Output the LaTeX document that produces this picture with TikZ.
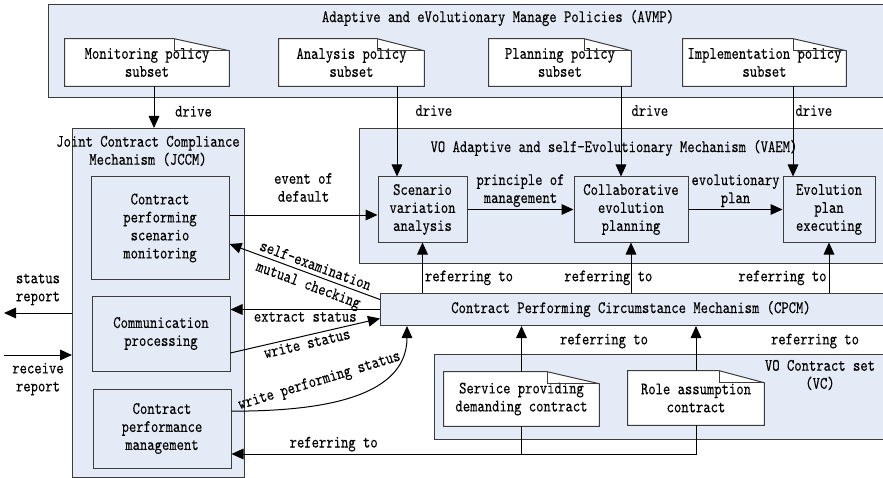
\documentclass[tikz,border=0pt]{standalone}
\usepackage{fontspec}
\usepackage{tikz}
\usetikzlibrary{arrows.meta, positioning, calc}
\newfontfamily\figfont{lmmono10-regular.otf}[FakeStretch=0.8, FakeBold=0.15]
\definecolor{paneblue}{RGB}{229,235,246}
\definecolor{edgegray}{RGB}{60,60,60}

\begin{document}
\begin{tikzpicture}[
  x=0.75pt, y=-0.75pt,
  font=\figfont\fontsize{13.1}{13.5}\selectfont,
  container/.style={rectangle, draw=edgegray, fill=paneblue, anchor=north west,
                    inner sep=0pt, line width=0.75pt},
  func/.style={rectangle, draw=edgegray, fill=paneblue, align=center,
               line width=0.75pt, inner sep=2pt, minimum height=48.75pt},
  policy/.style={rectangle, fill=white, align=center, inner sep=2pt, minimum height=35.25pt},
  lbl/.style={align=center, inner sep=1.5pt},
  arrow/.style={-{Triangle[length=9pt,width=8pt]}, draw=black, line width=0.75pt},
  link/.style={draw=black, line width=0.75pt}
]
\useasboundingbox (0,0) rectangle (883,478);
\clip (0,0) rectangle (883,478);

% mechanism panes
\node[container, minimum width=675.75pt, minimum height=69.75pt] (avmp) at (48,4) {};
\node[container, minimum width=129pt, minimum height=261.75pt] (jccm) at (72,128) {};
\node[container, minimum width=405pt, minimum height=101.25pt] (vaem) at (359,128) {};
\node[container, minimum width=390pt, minimum height=24pt] (cpcm) at (380,293) {};
\node[container, minimum width=345pt, minimum height=63.75pt] (vc) at (434,354) {};

\node (avmpt) at (498,18) {Adaptive and eVolutionary Manage Policies (AVMP)};
\node[align=center] (jccmt) at (148,151) {Joint Contract Compliance\\Mechanism (JCCM)};
\node (vaemt) at (614,148) {VO Adaptive and self-Evolutionary Mechanism (VAEM)};
\node (cpcmt) at (631,309) {Contract Performing Circumstance Mechanism (CPCM)};
\node[align=center] (vct) at (820,375) {VO Contract set\\(VC)};

% policy subsets and contracts
\node[policy, minimum width=123pt] (mon) at (147,62.5) {Monitoring policy\\subset};
\node[policy, minimum width=108.75pt] (ana) at (351.5,62.5) {Analysis policy\\subset};
\node[policy, minimum width=106.5pt] (pla) at (560,62.5) {Planning policy\\subset};
\node[policy, minimum width=122.25pt] (imp) at (764.5,62.5) {Implementation policy\\subset};
\node[policy, minimum width=116.25pt, minimum height=40.5pt] (spd) at (521.5,399) {Service providing\\demanding contract};
\node[policy, minimum width=102pt, minimum height=40.5pt] (rac) at (696,398) {Role assumption\\contract};

% folded corners
\foreach \d/\f in {mon/55,ana/47,pla/47,imp/53,spd/52,rac/45} {
  \fill[paneblue] ($(\d.north east)+(-\f,0)$) -- (\d.north east) -- ($(\d.north east)+(0,12)$) -- cycle;
  \draw[edgegray, line width=0.75pt] (\d.north west) -- ($(\d.north east)+(-\f,0)$)
    -- ($(\d.north east)+(0,12)$) -- (\d.south east) -- (\d.south west) -- cycle;
  \draw[edgegray, line width=0.75pt] ($(\d.north east)+(-\f,0)$) |- ($(\d.north east)+(0,12)$);
}

% functions
\node[func, minimum width=103.5pt, minimum height=76.5pt] (cpsm) at (160,228) {Contract\\performing\\scenario\\monitoring};
\node[func, minimum width=103.5pt, minimum height=56.25pt] (comm) at (161,333.5) {Communication\\processing};
\node[func, minimum width=103.5pt, minimum height=59.25pt] (cpm) at (162,428.5) {Contract\\performance\\management};
\node[func, minimum width=66.75pt] (scen) at (422.5,209.5) {Scenario\\variation\\analysis};
\node[func, minimum width=85.5pt] (coll) at (631,209.5) {Collaborative\\evolution\\planning};
\node[func, minimum width=69pt] (evol) at (829,209.5) {Evolution\\plan\\executing};

% drive arrows
\coordinate (d1) at (154,0);
\coordinate (d2) at (397,0);
\coordinate (d3) at (621,0);
\coordinate (d4) at (793,0);
\draw[arrow] (mon.south -| d1) -- (jccm.north -| d1) node[pos=0.6, right=14pt, lbl] {drive};
\draw[arrow] (ana.south -| d2) -- (scen.north -| d2) node[pos=0.27, right=12pt, lbl] {drive};
\draw[arrow] (pla.south -| d3) -- (coll.north -| d3) node[pos=0.27, right=6pt, lbl] {drive};
\draw[arrow] (imp.south -| d4) -- (evol.north -| d4) node[pos=0.27, right, lbl] {drive};

% evolution chain
\coordinate (evd) at (300,215);
\draw[arrow] (cpsm.east |- evd) -- (scen.west |- evd) node[midway, above=8pt, lbl] {event of\\default};
\draw[arrow] (scen.east) -- (coll.west) node[midway, above, lbl] {principle of\\management};
\draw[arrow] (coll.east) -- (evol.west) node[midway, above, lbl] {evolutionary\\plan};

% referring to circumstance
\draw[arrow] (scen.south |- cpcm.north) -- (scen.south) node[pos=0.3, right, lbl] {referring to};
\draw[arrow] (coll.south |- cpcm.north) -- (coll.south) node[pos=0.3, xshift=-17pt, lbl] {referring to};
\draw[arrow] (evol.south |- cpcm.north) -- (evol.south) node[pos=0.3, left, lbl] {referring to};
\draw[arrow] (spd.north) -- (spd.north |- cpcm.south);
\draw[arrow] (rac.north) -- (rac.north |- cpcm.south);
\node[lbl] (vcref) at (604,341) {referring to};
\node[lbl] (vcref2) at (815,341) {referring to};

% JCCM <-> CPCM
\draw[arrow] ([yshift=7.5pt]cpcm.west) -- ([yshift=-12pt]cpsm.east)
  node[pos=0.45, sloped, above=1.5pt, lbl] {self-examination}
  node[pos=0.45, sloped, below=2pt, lbl] {mutual checking};
\draw[arrow] (cpcm.west) -- (cpcm.west -| comm.east) node[midway, below, lbl] {extract status};
\draw[arrow] ([yshift=-14.6pt]comm.east) -- ([yshift=-6.75pt]cpcm.west)
  node[midway, sloped, below, lbl] {write status};
\draw[arrow] ([yshift=13pt]cpm.east) to[out=0, in=-90]
  node[pos=0.4, rotate=17, yshift=17pt, lbl] {write performing status}
  ([xshift=20.25pt]cpcm.south west);

% contracts back to performance management
\coordinate (rb) at (522,454);
\draw[link] (spd.south) -- (spd.south |- rb);
\draw[arrow] (rac.south) |- (cpm.east |- rb) node[pos=0.89, above, lbl] {referring to};

% status reports
\coordinate (sr) at (4,313);
\coordinate (rr) at (4,355);
\draw[arrow] (jccm.west |- sr) -- (sr) node[midway, above=4pt, lbl] {status\\report};
\draw[arrow] (rr) -- (jccm.west |- rr) node[midway, below=4pt, lbl] {receive\\report};
\end{tikzpicture}
\end{document}
